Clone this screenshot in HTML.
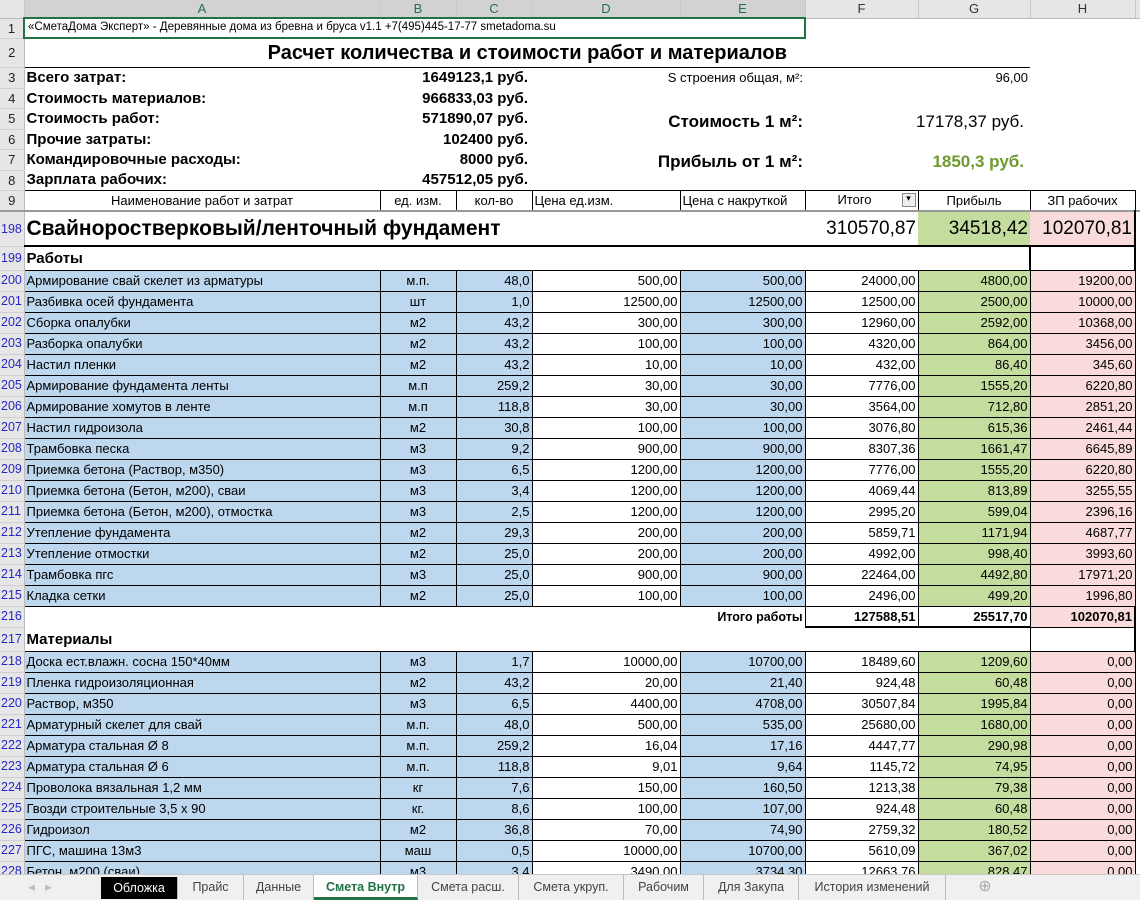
<!DOCTYPE html>
<html><head><meta charset="utf-8">
<style>
*{box-sizing:border-box;margin:0;padding:0}
body{width:1140px;height:900px;overflow:hidden;background:#fff;font-family:"Liberation Sans","DejaVu Sans",sans-serif;font-size:13px;color:#000;position:relative}
#wrap{position:absolute;left:0;top:0;width:1140px;height:874px;overflow:hidden}
table{border-collapse:collapse;table-layout:fixed;width:1140px}
td{overflow:hidden;white-space:nowrap;padding:0 2px;line-height:1;vertical-align:middle}
.h td{background:#e6e6e6;color:#333;text-align:center;border-right:1px solid #c8c8c8;border-bottom:1px solid #bbb;font-size:13px}
.h td.sel{background:#d2d2d2;color:#217346}
td.rh{background:#e6e6e6;border-right:1px solid #bbb;border-bottom:1px solid #d0d0d0;text-align:center;color:#222;padding:0}
td.rb{color:#2626c8;text-align:left;padding-left:1px;font-size:12.5px}
.d td{border:1px solid #000}
.d td.rh{border:none;border-right:1px solid #bbb;border-bottom:1px solid #d0d0d0}
.bl{background:#bdd7ee}.gr{background:#c4dd9e}.pk{background:#fadbdb}
.r{text-align:right}.c{text-align:center}
.b{font-weight:bold}
.top td{font-size:15px;font-weight:bold}
#tabs{position:absolute;left:0;top:874px;width:1140px;height:26px;background:#f0f0f0;border-top:1px solid #c8c8c8;font-size:12.5px;color:#444}
#tabs span{position:absolute;top:0;height:25px;line-height:24px;text-align:center;border-right:1px solid #bbb}
</style></head><body>
<div id="wrap">
<table>
<colgroup><col style="width:24px"><col style="width:356px"><col style="width:76px"><col style="width:76px"><col style="width:148px"><col style="width:125px"><col style="width:113px"><col style="width:112px"><col style="width:105px"><col style="width:5px"></colgroup>
<tr class="h" style="height:18px"><td style="background:#e6e6e6"></td><td class="sel">A</td><td class="sel">B</td><td class="sel">C</td><td class="sel">D</td><td class="sel">E</td><td>F</td><td>G</td><td>H</td><td></td></tr>
<tr style="height:20px"><td class="rh">1</td><td colspan="5" style="border:2px solid #217346;font-size:11.5px;padding-left:3px">«СметаДома Эксперт» - Деревянные дома из бревна и бруса v1.1 +7(495)445-17-77 smetadoma.su</td><td colspan="4"></td></tr>
<tr style="height:29px"><td class="rh">2</td><td colspan="7" class="c b" style="font-size:20px;border-bottom:1px solid #000">Расчет количества и стоимости работ и материалов</td><td colspan="2"></td></tr>
<tr class="top" style="height:21px"><td class="rh" style="font-weight:normal;font-size:13px">3</td><td>Всего затрат:</td><td colspan="2" class="r" style="padding-right:4px">1649123,1 руб.</td><td colspan="2" class="r" style="font-weight:normal;font-size:13px">S строения общая, м²:</td><td></td><td class="r" style="font-weight:normal;font-size:13px">96,00</td><td colspan="2"></td></tr>
<tr class="top" style="height:20px"><td class="rh" style="font-weight:normal;font-size:13px">4</td><td>Стоимость материалов:</td><td colspan="2" class="r" style="padding-right:4px">966833,03 руб.</td><td colspan="6"></td></tr>
<tr class="top" style="height:21px"><td class="rh" style="font-weight:normal;font-size:13px">5</td><td>Стоимость работ:</td><td colspan="2" class="r" style="padding-right:4px">571890,07 руб.</td><td colspan="2" rowspan="2" class="r" style="font-size:17px;vertical-align:top;padding-top:5px">Стоимость 1 м²:</td><td colspan="2" rowspan="2" class="r" style="font-size:17px;font-weight:normal;padding-right:6px;vertical-align:top;padding-top:5px">17178,37 руб.</td><td colspan="2" rowspan="2"></td></tr>
<tr class="top" style="height:20px"><td class="rh" style="font-weight:normal;font-size:13px">6</td><td>Прочие затраты:</td><td colspan="2" class="r" style="padding-right:4px">102400 руб.</td></tr>
<tr class="top" style="height:21px"><td class="rh" style="font-weight:normal;font-size:13px">7</td><td>Командировочные расходы:</td><td colspan="2" class="r" style="padding-right:4px">8000 руб.</td><td colspan="2" rowspan="2" class="r" style="font-size:17px;vertical-align:top;padding-top:4px">Прибыль от 1 м²:</td><td colspan="2" rowspan="2" class="r" style="font-size:17px;color:#6f9a2f;padding-right:6px;vertical-align:top;padding-top:4px">1850,3 руб.</td><td colspan="2" rowspan="2"></td></tr>
<tr class="top" style="height:20px"><td class="rh" style="font-weight:normal;font-size:13px">8</td><td>Зарплата рабочих:</td><td colspan="2" class="r" style="padding-right:4px">457512,05 руб.</td></tr>
<tr class="d" style="height:21px"><td class="rh">9</td><td class="c">Наименование работ и затрат</td><td class="c">ед. изм.</td><td class="c">кол-во</td><td>Цена ед.изм.</td><td>Цена с накруткой</td><td class="c">Итого <span style="display:inline-block;width:14px;height:14px;border:1px solid #888;background:#eee;font-size:9px;vertical-align:middle;float:right">▾</span></td><td class="c">Прибыль</td><td class="c">ЗП рабочих</td><td style="border:none"></td></tr>
<tr style="height:35px;border-top:2px solid #999"><td class="rh rb">198</td><td colspan="5" class="b" style="font-size:21px;border-bottom:2px solid #000">Свайноростверковый/ленточный фундамент</td><td class="r" style="font-size:19px;border-bottom:2px solid #000">310570,87</td><td class="r gr" style="font-size:19px;border-bottom:2px solid #000">34518,42</td><td class="r pk" style="font-size:19px;border-bottom:2px solid #000;border-right:2px solid #000">102070,81</td><td></td></tr>
<tr style="height:24px"><td class="rh rb">199</td><td colspan="7" class="b" style="font-size:15px;border-bottom:1px solid #000">Работы</td><td style="border-left:2px solid #000;border-right:2px solid #000;border-bottom:1px solid #000"></td><td></td></tr>
<tbody id="w"></tbody>
<tr style="height:21px"><td class="rh rb">216</td><td colspan="5" class="r b" style="font-size:12.5px">Итого работы</td><td class="r b" style="border-bottom:2px solid #000;border-left:1px solid #000">127588,51</td><td class="r b" style="border-bottom:2px solid #000;border-left:1px solid #000">25517,70</td><td class="r b pk" style="border-bottom:1px solid #000;border-left:1px solid #000;border-right:2px solid #000">102070,81</td><td></td></tr>
<tr style="height:24px"><td class="rh rb">217</td><td colspan="7" class="b" style="font-size:15px;border-bottom:1px solid #000">Материалы</td><td style="border-left:1px solid #000;border-right:2px solid #000;border-bottom:1px solid #000"></td><td></td></tr>
<tbody id="m"></tbody>
</table>
</div>
<div id="tabs">
<span style="left:10px;width:60px;border:none;color:#bbb">◂ &nbsp; ▸</span>
<span style="left:101px;width:77px;background:#000;color:#fff;top:2px;height:22px;line-height:22px">Обложка</span>
<span style="left:178px;width:66px">Прайс</span>
<span style="left:244px;width:70px">Данные</span>
<span style="left:314px;width:104px;background:#fff;color:#217346;font-weight:bold;border-bottom:3px solid #217346">Смета Внутр</span>
<span style="left:418px;width:101px">Смета расш.</span>
<span style="left:519px;width:105px">Смета укруп.</span>
<span style="left:624px;width:80px">Рабочим</span>
<span style="left:704px;width:95px">Для Закупа</span>
<span style="left:799px;width:147px">История изменений</span>
<span style="left:975px;width:20px;border:none;color:#aaa;font-size:16px">⊕</span>
</div>
<script>
function rows(id,start,data,h){
 var s='';data.forEach(function(d,i){
  s+='<tr class="d" style="height:'+h+'px"><td class="rh rb">'+(start+i)+'</td><td class="bl">'+d[0]+'</td><td class="bl c">'+d[1]+'</td><td class="bl r">'+d[2]+'</td><td class="r">'+d[3]+'</td><td class="bl r">'+d[4]+'</td><td class="r">'+d[5]+'</td><td class="gr r">'+d[6]+'</td><td class="pk r">'+d[7]+'</td><td style="border:none"></td></tr>';
 });document.getElementById(id).innerHTML=s;}
rows('w',200,[
["Армирование свай скелет из арматуры","м.п.","48,0","500,00","500,00","24000,00","4800,00","19200,00"],
["Разбивка осей фундамента","шт","1,0","12500,00","12500,00","12500,00","2500,00","10000,00"],
["Сборка опалубки","м2","43,2","300,00","300,00","12960,00","2592,00","10368,00"],
["Разборка опалубки","м2","43,2","100,00","100,00","4320,00","864,00","3456,00"],
["Настил пленки","м2","43,2","10,00","10,00","432,00","86,40","345,60"],
["Армирование фундамента ленты","м.п","259,2","30,00","30,00","7776,00","1555,20","6220,80"],
["Армирование хомутов в ленте","м.п","118,8","30,00","30,00","3564,00","712,80","2851,20"],
["Настил гидроизола","м2","30,8","100,00","100,00","3076,80","615,36","2461,44"],
["Трамбовка песка","м3","9,2","900,00","900,00","8307,36","1661,47","6645,89"],
["Приемка бетона (Раствор, м350)","м3","6,5","1200,00","1200,00","7776,00","1555,20","6220,80"],
["Приемка бетона (Бетон, м200), сваи","м3","3,4","1200,00","1200,00","4069,44","813,89","3255,55"],
["Приемка бетона (Бетон, м200), отмостка","м3","2,5","1200,00","1200,00","2995,20","599,04","2396,16"],
["Утепление фундамента","м2","29,3","200,00","200,00","5859,71","1171,94","4687,77"],
["Утепление отмостки","м2","25,0","200,00","200,00","4992,00","998,40","3993,60"],
["Трамбовка пгс","м3","25,0","900,00","900,00","22464,00","4492,80","17971,20"],
["Кладка сетки","м2","25,0","100,00","100,00","2496,00","499,20","1996,80"]],21);
rows('m',218,[
["Доска ест.влажн. сосна 150*40мм","м3","1,7","10000,00","10700,00","18489,60","1209,60","0,00"],
["Пленка гидроизоляционная","м2","43,2","20,00","21,40","924,48","60,48","0,00"],
["Раствор, м350","м3","6,5","4400,00","4708,00","30507,84","1995,84","0,00"],
["Арматурный скелет для свай","м.п.","48,0","500,00","535,00","25680,00","1680,00","0,00"],
["Арматура стальная Ø 8","м.п.","259,2","16,04","17,16","4447,77","290,98","0,00"],
["Арматура стальная Ø 6","м.п.","118,8","9,01","9,64","1145,72","74,95","0,00"],
["Проволока вязальная 1,2 мм","кг","7,6","150,00","160,50","1213,38","79,38","0,00"],
["Гвозди строительные 3,5 х 90","кг.","8,6","100,00","107,00","924,48","60,48","0,00"],
["Гидроизол","м2","36,8","70,00","74,90","2759,32","180,52","0,00"],
["ПГС, машина 13м3","маш","0,5","10000,00","10700,00","5610,09","367,02","0,00"],
["Бетон, м200 (сваи)","м3","3,4","3490,00","3734,30","12663,76","828,47","0,00"]],21);
</script>
</body></html>
